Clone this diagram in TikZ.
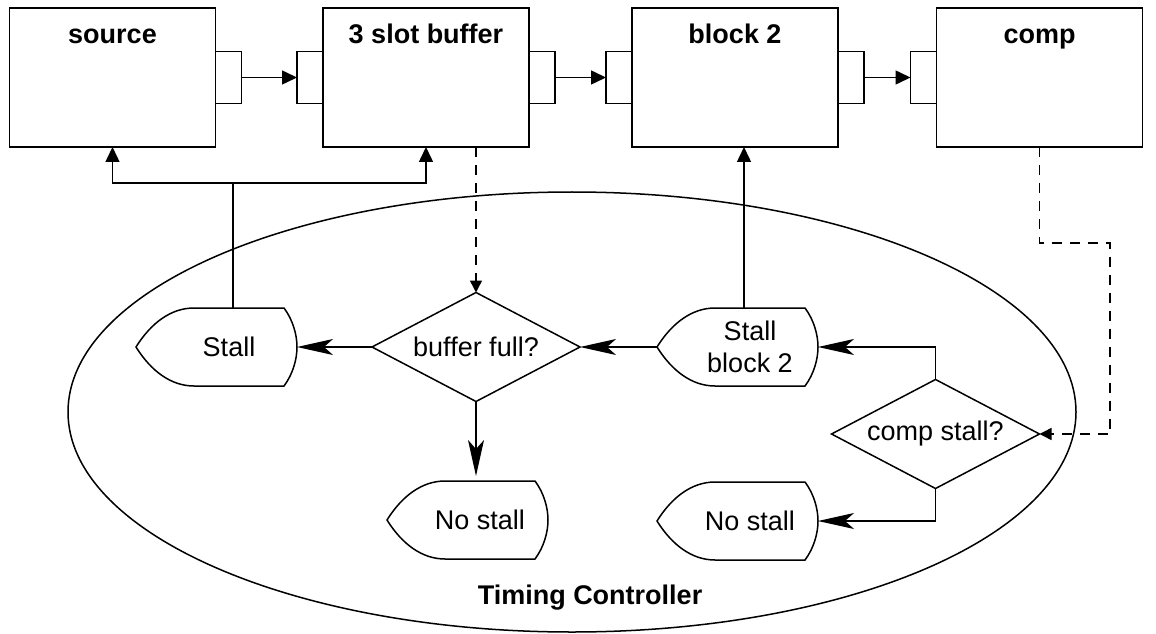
\documentclass[tikz,border=0pt]{standalone}
\usepackage{fontspec}
\setmainfont{Liberation Sans}
\usetikzlibrary{shapes.geometric, arrows.meta, positioning, calc}
\newcommand{\labelfont}{\fontsize{27pt}{32pt}\selectfont}

\begin{document}
\begin{tikzpicture}[
    x=1pt, y=1pt,
    line width=1.5pt,
    every node/.style={outer sep=0pt},
    block/.style={rectangle, draw, minimum width=206pt, minimum height=139pt, inner sep=0pt, text height=36pt, text depth=103pt, font=\labelfont\bfseries},
    port/.style={rectangle, draw, minimum width=26pt, minimum height=52pt, inner sep=0pt},
    decision/.style={diamond, draw, aspect=1.9, minimum width=208pt, minimum height=109pt, inner sep=1pt, font=\labelfont},
    flow/.style={-{Triangle[length=15pt, width=14pt]}},
    decide/.style={-{Stealth[length=36pt, width=16pt, inset=9pt]}},
    signal/.style={dash pattern=on 10pt off 8pt, -{Triangle[length=12pt, width=12pt]}},
    display/.pic={
        \draw (-93,0) .. controls (-78,24) and (-58,39) .. (-35,39) -- (55,39)
            .. controls (64,27) and (68,12) .. (68,0)
            .. controls (68,-12) and (64,-27) .. (55,-39) -- (-35,-39)
            .. controls (-58,-39) and (-78,-24) .. cycle;
        \node[font=\labelfont, align=center, inner sep=0pt] (-text) at (0,0) {#1};
        \coordinate (-w) at (-93,0);
        \coordinate (-e) at (68,0);
        \coordinate (-n) at (0,39);
    }
]
\useasboundingbox (0,0) rectangle (1156,633);

% Controller
\node[ellipse, draw, minimum width=1008pt, minimum height=440pt, inner sep=0pt] (tc) at (572,221) {};
\node[font=\labelfont\bfseries] (tclabel) at (590,35) {Timing Controller};

% Pipeline blocks
\node[block] (source) at (112.5,555.5) {source};
\node[block] (buffer) at (426,555.5) {3 slot buffer};
\node[block] (block2) at (735,555.5) {block 2};
\node[block] (comp) at (1039.5,555.5) {comp};

% Ports
\node[port, right=0pt of source] (srcout) {};
\node[port, left=0pt of buffer] (bufin) {};
\node[port, right=0pt of buffer] (bufout) {};
\node[port, left=0pt of block2] (blkin) {};
\node[port, right=0pt of block2] (blkout) {};
\node[port, left=0pt of comp] (compin) {};

\draw[flow] (srcout) -- (bufin);
\draw[flow] (bufout) -- (blkin);
\draw[flow] (blkout) -- (compin);

% Decisions and outcomes
\node[decision] (bufull) at (476,286) {buffer full?};
\node[decision] (compstall) at (935.5,199) {comp stall?};
\pic (stall) at (229,286) {display=Stall};
\pic (stallb) at (750,286) {display={Stall\\block 2}};
\pic (nostalla) at (480,113) {display={No stall}};
\pic (nostallb) at (750,112) {display={No stall}};

% Flow inside the controller
\draw[decide] (bufull.west) -- (stall-e);
\draw[decide] (stallb-w) -- (bufull.east);
\draw[decide] (compstall.north) |- (stallb-e);
\draw[decide] (compstall.south) |- (nostallb-e);
\draw[decide, shorten >=5pt] (bufull.south) -- (bufull.south |- nostalla-n);

% Stall signals back to the blocks
\coordinate[above=125pt of stall-n, xshift=4pt] (fork);
\draw[flow] (fork |- stall-n) -- (fork) -| (source.south);
\draw[flow] (fork) -| (buffer.south);
\draw[flow] ([xshift=-6pt]stallb-n) -- ([xshift=-6pt]stallb-n |- block2.south);

% Status lines
\draw[signal] (bufull.north |- buffer.south) -- (bufull.north);
\coordinate (bend) at (1110,390);
\draw[signal] (comp.south) |- (bend) |- (compstall.east);

\end{tikzpicture}
\end{document}
